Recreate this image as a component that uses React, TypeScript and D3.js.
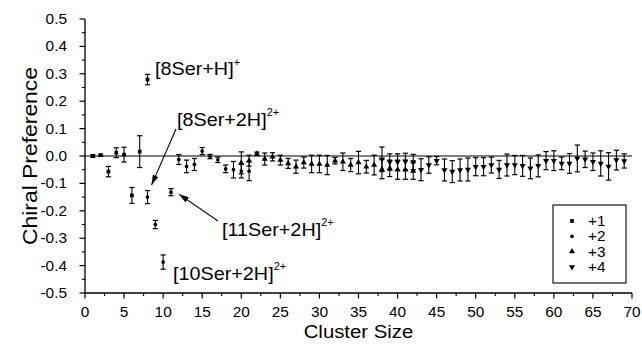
import React from 'react';
import * as d3 from 'd3';

const W = 642;
const H = 345;
const FONT = '"Liberation Sans", Arial, Helvetica, sans-serif';

// charge +1 clusters
const c1Size = [1, 3, 4, 5, 6, 7, 8];
const c1Val = [0.0, -0.057, 0.012, 0.005, -0.144, 0.016, 0.279];
const c1Err = [0.005, 0.019, 0.018, 0.027, 0.029, 0.058, 0.019];

// charge +2 clusters
const c2Size = [2, 8, 9, 10, 11, 12, 13, 14, 15, 16, 17, 18, 19, 20, 21];
const c2Val = [0.003, -0.15, -0.25, -0.387, -0.132, -0.013, -0.038, -0.031, 0.018, -0.002, -0.014, -0.047, -0.05, -0.055, -0.055];
const c2Err = [0.004, 0.024, 0.015, 0.026, 0.013, 0.018, 0.023, 0.022, 0.013, 0.008, 0.01, 0.014, 0.03, 0.025, 0.035];

// charge +3 clusters
const c3Size = [20, 21, 22, 23, 24, 25, 26, 27, 28, 29, 30, 31, 32, 33, 34, 35, 36, 37, 38, 39, 40, 41, 42];
const c3Val = [-0.025, -0.017, 0.008, -0.011, -0.003, -0.015, -0.027, -0.039, -0.024, -0.029, -0.029, -0.033, -0.017, -0.021, -0.033, -0.024, -0.039, -0.033, -0.048, -0.045, -0.05, -0.05, -0.055];
const c3Err = [0.04, 0.02, 0.006, 0.022, 0.015, 0.018, 0.018, 0.024, 0.02, 0.032, 0.032, 0.035, 0.012, 0.032, 0.024, 0.041, 0.023, 0.036, 0.035, 0.03, 0.035, 0.035, 0.03];

// charge +4 clusters
const c4Size = [38, 39, 40, 41, 42, 43, 44, 45, 46, 47, 48, 49, 50, 51, 52, 53, 54, 55, 56, 57, 58, 59, 60, 61, 62, 63, 64, 65, 66, 67, 68, 69];
const c4Val = [-0.012, -0.022, -0.022, -0.02, -0.022, -0.05, -0.033, -0.017, -0.051, -0.057, -0.051, -0.049, -0.039, -0.039, -0.033, -0.049, -0.033, -0.033, -0.036, -0.045, -0.036, -0.017, -0.017, -0.027, -0.027, -0.009, -0.012, -0.021, -0.027, -0.038, -0.015, -0.018];
const c4Err = [0.045, 0.03, 0.03, 0.03, 0.028, 0.04, 0.03, 0.015, 0.04, 0.04, 0.04, 0.042, 0.033, 0.033, 0.029, 0.033, 0.04, 0.035, 0.038, 0.038, 0.04, 0.033, 0.036, 0.023, 0.036, 0.049, 0.03, 0.032, 0.046, 0.05, 0.036, 0.026];

const xTicks = [0, 5, 10, 15, 20, 25, 30, 35, 40, 45, 50, 55, 60, 65, 70];
const yTicks = [-0.5, -0.4, -0.3, -0.2, -0.1, 0, 0.1, 0.2, 0.3, 0.4, 0.5];
const legendLabels = ['+1', '+2', '+3', '+4'];

const x = d3.scaleLinear().domain([0, 70]).range([85, 632]);
const y = d3.scaleLinear().domain([-0.5, 0.5]).range([293, 19]);

const symSquare = d3.symbol().type(d3.symbolSquare).size(14)();
const symCircle = d3.symbol().type(d3.symbolCircle).size(11)();
const symTri = d3.symbol().type(d3.symbolTriangle).size(16)();

const series = [
  { size: c1Size, val: c1Val, err: c1Err, path: symSquare, rot: 0 },
  { size: c2Size, val: c2Val, err: c2Err, path: symCircle, rot: 0 },
  { size: c3Size, val: c3Val, err: c3Err, path: symTri, rot: 0 },
  { size: c4Size, val: c4Val, err: c4Err, path: symTri, rot: 180 },
];

// horizontally stretched text, like the original export
const T = ({ x, y, size, anchor = 'start', children }) => (
  <text
    transform={`translate(${x},${y}) scale(1.1,1)`}
    fontSize={size}
    textAnchor={anchor}
    fontFamily={FONT}
    fill="#000"
  >
    {children}
  </text>
);

const fmtY = (v) => (Math.abs(v) < 1e-9 ? '0.0' : v.toFixed(1));

export default function App() {
  const xMinor = d3.range(2.5, 70, 5);
  const yMinor = d3.range(-0.45, 0.5, 0.1);
  const cap = 2.6;

  // annotation anchors taken from the data points they point at
  const a8 = { px: x(8), py: y(-0.15) };
  const a11 = { px: x(11), py: y(-0.132) };

  return (
    <svg width={W} height={H} style={{ position: 'absolute', left: 0, top: 0, background: '#fff' }}>
      <defs>
        <marker id="ah" viewBox="0 0 10 6" refX="10" refY="3" markerWidth="10" markerHeight="6" markerUnits="userSpaceOnUse" orient="auto">
          <path d="M0,0 L10,3 L0,6 Z" fill="#000" />
        </marker>
      </defs>

      {/* zero line */}
      <line x1={x(0)} x2={x(70)} y1={y(0)} y2={y(0)} stroke="#000" strokeWidth={1.1} />

      {/* y axis */}
      <line x1={x(0)} x2={x(0)} y1={y(-0.5)} y2={y(0.5)} stroke="#000" strokeWidth={1.3} />
      {yTicks.map((t) => (
        <g key={'yt' + t}>
          <line x1={x(0) - 5.5} x2={x(0)} y1={y(t)} y2={y(t)} stroke="#000" strokeWidth={1.2} />
          <T x={67} y={y(t) + 5} size={14} anchor="end">{fmtY(t)}</T>
        </g>
      ))}
      {yMinor.map((t) => (
        <line key={'ym' + t} x1={x(0) - 3} x2={x(0)} y1={y(t)} y2={y(t)} stroke="#000" strokeWidth={1.1} />
      ))}

      {/* x axis */}
      <line x1={x(0)} x2={x(70)} y1={y(-0.5)} y2={y(-0.5)} stroke="#000" strokeWidth={1.3} />
      {xTicks.map((t) => (
        <g key={'xt' + t}>
          <line x1={x(t)} x2={x(t)} y1={y(-0.5)} y2={y(-0.5) + 5.5} stroke="#000" strokeWidth={1.2} />
          <T x={x(t)} y={317} size={14} anchor="middle">{t}</T>
        </g>
      ))}
      {xMinor.map((t) => (
        <line key={'xm' + t} x1={x(t)} x2={x(t)} y1={y(-0.5)} y2={y(-0.5) + 3} stroke="#000" strokeWidth={1.1} />
      ))}

      {/* axis titles */}
      <T x={(x(0) + x(70)) / 2} y={338} size={18.5} anchor="middle">Cluster Size</T>
      <text
        transform={`translate(37,${y(0)}) rotate(-90)`}
        fontSize={20}
        textAnchor="middle"
        fontFamily={FONT}
        textLength={178}
        lengthAdjust="spacingAndGlyphs"
      >
        Chiral Preference
      </text>

      {/* error bars + markers */}
      {series.map((s, si) => (
        <g key={'s' + si}>
          {s.size.map((n, i) => {
            const cx = x(n);
            const y1 = y(s.val[i] + s.err[i]);
            const y2 = y(s.val[i] - s.err[i]);
            return (
              <g key={i}>
                <line x1={cx} x2={cx} y1={y1} y2={y2} stroke="#000" strokeWidth={1.1} />
                <line x1={cx - cap} x2={cx + cap} y1={y1} y2={y1} stroke="#000" strokeWidth={1.2} />
                <line x1={cx - cap} x2={cx + cap} y1={y2} y2={y2} stroke="#000" strokeWidth={1.2} />
                <path d={s.path} transform={`translate(${cx},${y(s.val[i])}) rotate(${s.rot})`} fill="#000" />
              </g>
            );
          })}
        </g>
      ))}

      {/* annotations */}
      <T x={155} y={75} size={18}>[8Ser+H]<tspan fontSize={10} dy={-9}>+</tspan></T>
      <T x={177} y={126} size={18}>[8Ser+2H]<tspan fontSize={10} dy={-10}>2+</tspan></T>
      <T x={222} y={236} size={18}>[11Ser+2H]<tspan fontSize={10} dy={-10}>2+</tspan></T>
      <T x={173} y={280} size={18}>[10Ser+2H]<tspan fontSize={10} dy={-10}>2+</tspan></T>
      <line x1={176} y1={129} x2={a8.px + 4} y2={a8.py - 12} stroke="#000" strokeWidth={1.1} markerEnd="url(#ah)" />
      <line x1={218} y1={221} x2={a11.px + 8} y2={a11.py + 2} stroke="#000" strokeWidth={1.1} markerEnd="url(#ah)" />

      {/* legend */}
      <rect x={553} y={205} width={73} height={78} fill="#fff" stroke="#000" strokeWidth={1.1} />
      {series.map((s, i) => (
        <g key={'lg' + i}>
          <path d={s.path} transform={`translate(572,${221 + i * 15.3}) rotate(${s.rot})`} fill="#000" />
          <T x={588} y={221 + i * 15.3 + 5} size={14}>{legendLabels[i]}</T>
        </g>
      ))}
    </svg>
  );
}
